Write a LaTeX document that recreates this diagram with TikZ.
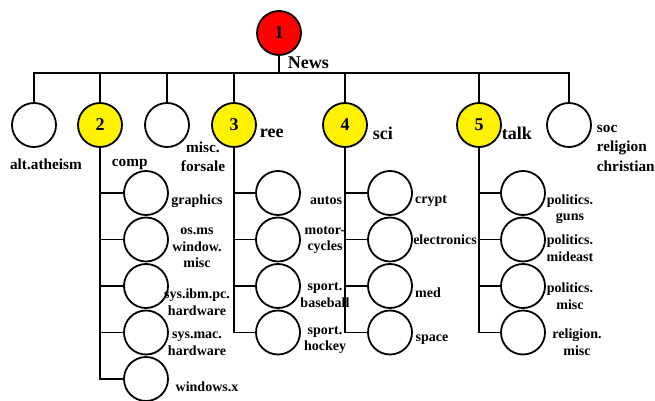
\documentclass[tikz,border=0pt]{standalone}
\usepackage{fontspec}
\setmainfont{Liberation Serif}
\begin{document}
\begin{tikzpicture}[x=1pt,y=-1pt, line width=1.8pt,
  circ/.style={circle, draw, minimum size=44pt, inner sep=0pt, fill=white},
  big/.style={font=\fontsize{18}{20}\selectfont\bfseries},
  toplab/.style={font=\fontsize{15.3}{19.5}\selectfont\bfseries, inner sep=0pt},
  small/.style={font=\fontsize{14}{16.5}\selectfont\bfseries, align=center, inner sep=0pt},
]
\useasboundingbox (0,0) rectangle (655,401);
\coordinate (bar) at (0,73);
% nodes
\node[circ, fill=red, big] (n1) at (279,33) {1};
\node[circ] (alt) at (34,125) {};
\node[circ, fill=yellow, big] (n2) at (100,125) {2};
\node[circ] (misc) at (167,125) {};
\node[circ, fill=yellow, big] (n3) at (234,125) {3};
\node[circ, fill=yellow, big] (n4) at (345,125) {4};
\node[circ, fill=yellow, big] (n5) at (479,125) {5};
\node[circ] (soc) at (569,125) {};
% comp children
\foreach \i/\y in {1/193,2/239.5,3/286,4/332.5,5/379}{
  \node[circ] (c2\i) at (146,\y) {};
}
\foreach \i/\y in {1/193,2/239.5,3/286,4/332.5}{
  \node[circ] (c3\i) at (278,\y) {};
  \node[circ] (c4\i) at (390,\y) {};
  \node[circ] (c5\i) at (523,\y) {};
}
% connectors
\draw (n1.south) -- (n1.south |- bar);
\draw (alt.north) -- (alt.north |- bar) -- (soc.north |- bar) -- (soc.north);
\foreach \n in {n2,misc,n3,n4,n5}{
  \draw (\n.north) -- (\n.north |- bar);
}
\draw (n2.south) |- (c25.west);
\foreach \i in {1,2,3,4}{ \draw (c2\i.west) -- (n2.south |- c2\i.west); }
\draw (n3.south) |- (c34.west);
\draw (n4.south) |- (c44.west);
\draw (n5.south) |- (c54.west);
\foreach \i in {1,2,3}{
  \draw (c3\i.west) -- (n3.south |- c3\i.west);
  \draw (c4\i.west) -- (n4.south |- c4\i.west);
  \draw (c5\i.west) -- (n5.south |- c5\i.west);
}
% labels
\node[big, anchor=west, inner sep=0pt] (lnews) at (287,63) {News};
\node[toplab] (lalt) at (46,164) {alt.atheism};
\node[toplab, anchor=west] (lcomp) at (111,165) {comp};
\node[toplab, align=center] (lmisc) at (203,157) {misc.\\forsale};
\node[big, anchor=west, inner sep=0pt] (lree) at (259,133) {ree};
\node[big, anchor=west, inner sep=0pt] (lsci) at (372,133) {sci};
\node[big, anchor=west, inner sep=0pt] (ltalk) at (501,133) {talk};
\node[toplab, align=left, anchor=west] (lsoc) at (596,148) {soc\\religion\\christian};
\node[small] (l21) at (197,201) {graphics};
\node[small] (l22) at (197,248) {os.ms\\window.\\misc};
\node[small] (l23) at (197,302) {sys.ibm.pc.\\hardware};
\node[small] (l24) at (197,344) {sys.mac.\\hardware};
\node[small] (l25) at (207,387) {windows.x};
\node[small] (l31) at (326,201) {autos};
\node[small] (l32) at (325,240) {motor-\\cycles};
\node[small] (l33) at (325,295) {sport.\\baseball};
\node[small] (l34) at (325,340) {sport.\\hockey};
\node[small] (l41) at (431,201) {crypt};
\node[small] (l42) at (445,240) {electronics};
\node[small] (l43) at (428,293) {med};
\node[small] (l44) at (432,340) {space};
\node[small] (l51) at (570,209) {politics.\\guns};
\node[small] (l52) at (570,248) {politics.\\mideast};
\node[small] (l53) at (570,296) {politics.\\misc};
\node[small] (l54) at (577,342) {religion.\\misc};
\end{tikzpicture}
\end{document}
